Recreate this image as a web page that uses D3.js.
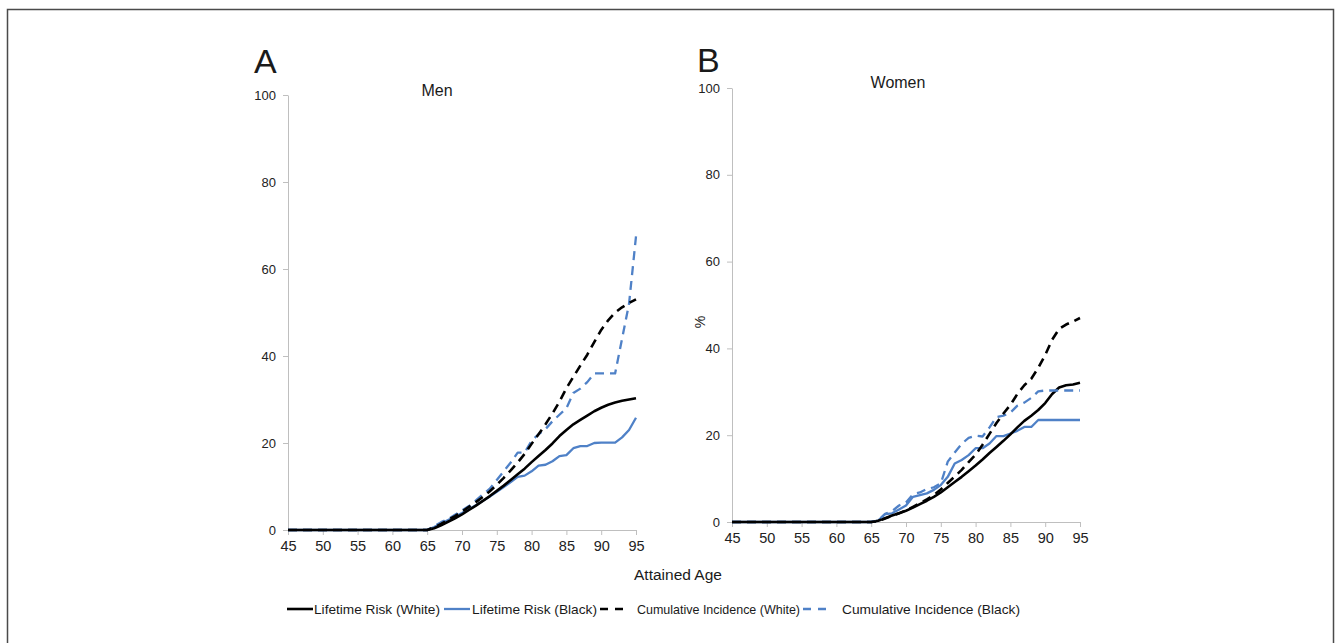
<!DOCTYPE html>
<html>
<head>
<meta charset="utf-8">
<script src="https://cdn.jsdelivr.net/npm/d3@7"></script>
<style>
  body { margin: 0; background: #fff; }
  text { font-family: "Liberation Sans", Arial, sans-serif; fill: #1a1a1a; }
  .axis path, .axis line { stroke: #bfbfbf; }
  .axis text { font-size: 13px; fill: #222; }
  .xaxis text { font-size: 14.5px; }
</style>
</head>
<body>
<div id="chart"></div>
<script>
// ---- data ----
const ages = [45,46,47,48,49,50,51,52,53,54,55,56,57,58,59,60,61,62,63,64,
  65,66,67,68,69,70,71,72,73,74,75,76,77,78,79,80,81,82,83,84,85,86,87,88,89,90,91,92,93,94,95]
const zeros20 = [0,0,0,0,0,0,0,0,0,0,0,0,0,0,0,0,0,0,0,0]

// Men (ages 65..95, appended to the flat zeros)
const menLifetimeWhite = zeros20.concat([0,0.4,1.1,1.9,2.7,3.6,4.6,5.6,6.7,7.8,9.0,10.2,11.5,12.8,14.1,15.6,17.0,18.4,19.9,21.6,23.0,24.3,25.3,26.3,27.3,28.1,28.8,29.3,29.7,30.0,30.3])
const menLifetimeBlack = zeros20.concat([0,0.7,1.5,2.3,3.1,3.9,4.8,5.7,6.7,7.7,8.8,9.9,11.0,12.2,12.5,13.5,14.8,15.0,15.8,17.0,17.2,18.8,19.3,19.3,20.0,20.1,20.1,20.1,21.3,23.0,25.8])
const menCumWhite = zeros20.concat([0,0.6,1.4,2.3,3.2,4.2,5.3,6.4,7.6,8.9,10.4,12.0,13.7,15.5,17.5,19.8,22.0,24.3,26.8,29.5,32.6,35.2,37.8,40.3,43.2,46.0,48.2,50.0,51.2,52.2,53.0])
const menCumBlack = zeros20.concat([0,0.9,1.8,2.5,3.5,4.5,5.5,6.8,8.2,9.5,11.5,13.5,15.5,17.8,17.8,20.5,22.0,23.2,25.0,26.5,28.0,31.5,32.5,34.0,36.0,36.0,36.0,36.0,44.0,52.0,67.5])

// Women
const womenLifetimeWhite = zeros20.concat([0,0.3,0.9,1.5,2.0,2.6,3.3,4.1,4.9,5.8,6.8,8.0,9.2,10.4,11.7,13.0,14.4,15.9,17.3,18.7,20.2,21.8,23.3,24.5,25.8,27.4,29.5,31.0,31.5,31.7,32.1])
const womenLifetimeBlack = zeros20.concat([0,0.3,1.8,2.0,2.9,3.8,5.8,6.2,6.6,7.4,8.5,10.4,13.5,14.3,15.4,17.0,17.0,18.1,19.8,19.8,20.4,21.0,21.9,21.9,23.5,23.5,23.5,23.5,23.5,23.5,23.5])
const womenCumWhite = zeros20.concat([0,0.2,0.8,1.4,2.0,2.7,3.5,4.3,5.2,6.2,7.5,9.0,10.5,12.0,13.8,15.5,17.8,20.3,22.8,25.0,27.0,29.5,31.5,33.0,35.5,38.5,42.0,44.5,45.5,46.2,47.0])
const womenCumBlack = zeros20.concat([0,0.3,1.9,2.5,3.8,4.5,6.4,6.8,7.6,8.0,8.9,13.9,16.0,18.0,19.4,19.9,19.7,21.8,24.2,24.5,25.2,26.8,27.5,28.6,30.1,30.3,30.3,30.3,30.3,30.3,30.3])

const xTicks = [45,50,55,60,65,70,75,80,85,90,95]
const yTicks = [0,20,40,60,80,100]
const seriesNames = ["Lifetime Risk (White)", "Lifetime Risk (Black)", "Cumulative Incidence (White)", "Cumulative Incidence (Black)"]

const black = "#000000", blue = "#4f81c7"
const styles = [
  { color: black, width: 2.6, dash: null },
  { color: blue, width: 2.3, dash: null },
  { color: black, width: 2.6, dash: "9,6" },
  { color: blue, width: 2.3, dash: "9,6" }
]

const panels = [
  { letter: "A", title: "Men", series: [menLifetimeWhite, menLifetimeBlack, menCumWhite, menCumBlack],
    x0: 288, x1: 636, yTop: 95, yBot: 530, letterX: 254, letterY: 73, titleX: 437, titleY: 96, pct: false },
  { letter: "B", title: "Women", series: [womenLifetimeWhite, womenLifetimeBlack, womenCumWhite, womenCumBlack],
    x0: 732, x1: 1080, yTop: 88, yBot: 522, letterX: 697, letterY: 72, titleX: 898, titleY: 88, pct: true }
]

// ---- svg ----
const svg = d3.select("#chart").append("svg")
  .attr("width", 1341).attr("height", 643)

// outer frame
svg.append("rect")
  .attr("x", 7.5).attr("y", 9.5).attr("width", 1326).attr("height", 650)
  .attr("fill", "none").attr("stroke", "#4a4a4a").attr("stroke-width", 1.5)

panels.forEach(p => {
  const x = d3.scaleLinear().domain([45, 95]).range([p.x0, p.x1])
  const y = d3.scaleLinear().domain([0, 100]).range([p.yBot, p.yTop])
  const g = svg.append("g")

  g.append("g").attr("class", "axis")
    .attr("transform", "translate(" + p.x0 + ",0)")
    .call(d3.axisLeft(y).tickValues(yTicks).tickSize(5).tickSizeOuter(0).tickPadding(7))

  g.append("g").attr("class", "axis xaxis")
    .attr("transform", "translate(0," + p.yBot + ")")
    .call(d3.axisBottom(x).tickValues(xTicks).tickSize(5).tickSizeOuter(0).tickPadding(6))

  const line = d3.line()
    .x((d, i) => x(ages[i]))
    .y(d => y(d))

  // draw in order: blue solid, black solid, blue dashed, black dashed
  const order = [1, 0, 3, 2]
  order.forEach(k => {
    g.append("path")
      .datum(p.series[k])
      .attr("fill", "none")
      .attr("stroke", styles[k].color)
      .attr("stroke-width", styles[k].width)
      .attr("stroke-dasharray", styles[k].dash)
      .attr("stroke-linejoin", "round")
      .attr("d", line)
  })

  g.append("text").attr("x", p.letterX).attr("y", p.letterY)
    .style("font-size", "34px").text(p.letter)
  g.append("text").attr("x", p.titleX).attr("y", p.titleY)
    .attr("text-anchor", "middle").style("font-size", "16px").text(p.title)

  if (p.pct) {
    g.append("text")
      .attr("transform", "translate(" + (p.x0 - 27) + "," + 322 + ") rotate(-90)")
      .attr("text-anchor", "middle").style("font-size", "14px").text("%")
  }
})

svg.append("text").attr("x", 678).attr("y", 580)
  .attr("text-anchor", "middle").style("font-size", "15.5px").text("Attained Age")

// ---- legend ----
const legendItems = [
  { lx: 287, tx: 314, tw: 126 },
  { lx: 444, tx: 472, tw: 125 },
  { lx: 600, tx: 637, tw: 163 },
  { lx: 803, tx: 842, tw: 178 }
]
const legend = svg.append("g")
legendItems.forEach((it, k) => {
  legend.append("line")
    .attr("x1", it.lx).attr("x2", it.lx + 26)
    .attr("y1", 609).attr("y2", 609)
    .attr("stroke", styles[k].color)
    .attr("stroke-width", styles[k].width)
    .attr("stroke-dasharray", styles[k].dash ? "8,7" : null)
  legend.append("text")
    .attr("x", it.tx).attr("y", 614)
    .style("font-size", "13.5px")
    .attr("textLength", it.tw).attr("lengthAdjust", "spacingAndGlyphs")
    .text(seriesNames[k])
})
</script>
</body>
</html>
